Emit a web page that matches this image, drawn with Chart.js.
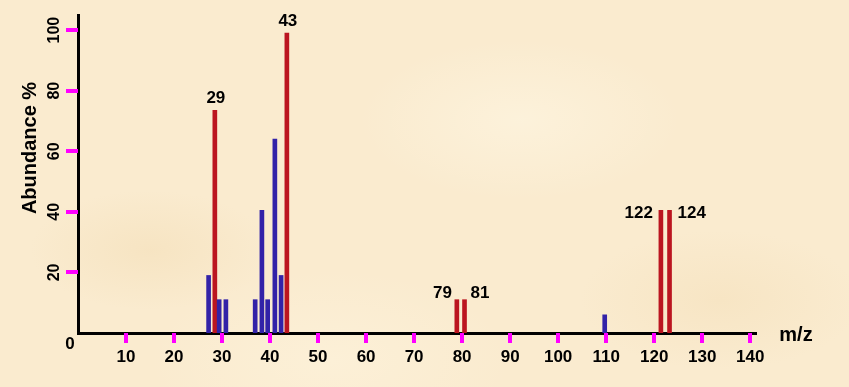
<!DOCTYPE html>
<html>
<head>
<meta charset="utf-8">
<script src="https://cdn.jsdelivr.net/npm/chart.js@4.4.1/dist/chart.umd.min.js"></script>
<style>
  html, body { margin: 0; padding: 0; }
  #wrap {
    position: relative; width: 849px; height: 387px;
    background:
      radial-gradient(ellipse 120px 60px at 150px 250px, rgba(240,215,170,0.35), transparent),
      radial-gradient(ellipse 160px 80px at 520px 120px, rgba(255,248,230,0.5), transparent),
      radial-gradient(ellipse 140px 70px at 720px 300px, rgba(240,215,170,0.3), transparent),
      radial-gradient(ellipse 180px 90px at 330px 360px, rgba(255,246,225,0.45), transparent),
      #faebcf;
  }
</style>
</head>
<body>
<div id="wrap"><canvas id="chart" width="849" height="387"></canvas></div>
<script>
// m/z positions and abundance (%)
const blueMz = [27.2, 29.4, 30.8, 36.9, 38.3, 39.5, 41.0, 42.3, 109.7];
const blueAbund = [19, 11, 11, 11, 40.5, 11, 64, 19, 6];
const redMz = [28.5, 43.5, 78.9, 80.5, 121.4, 123.2];
const redAbund = [73.5, 99, 11, 11, 40.5, 40.5];
const redLabels = ["29", "43", "79", "81", "122", "124"];
const xTicks = [10, 20, 30, 40, 50, 60, 70, 80, 90, 100, 110, 120, 130, 140];
const yTicks = [20, 40, 60, 80, 100];

const FONT = '"Liberation Sans", Arial, sans-serif';
const BLUE = '#3222a8';
const RED = '#bb1520';
const TICK = '#ff00ff'; // temporary: check that tick marks get drawn

// where each peak label sits relative to its bar
const labelSide = ["top", "top", "left", "right", "left", "right"];

const labelsPlugin = {
    id: 'labels',
    afterDraw(chart) {
        const ctx = chart.ctx;
        const xs = chart.scales.x, ys = chart.scales.y;
        const area = chart.chartArea;
        ctx.save();

        // tick marks, outside the axes
        ctx.fillStyle = TICK;
        xTicks.forEach(v => {
            const px = Math.round(xs.getPixelForValue(v));
            ctx.fillRect(px - 2, area.bottom, 4, 10);
        });
        yTicks.forEach(v => {
            const py = Math.round(ys.getPixelForValue(v));
            ctx.fillRect(area.left - 12, py - 2, 12, 4);
        });

        ctx.fillStyle = '#000';

        // peak labels
        ctx.font = 'bold 17px ' + FONT;
        redMz.forEach((mz, i) => {
            const px = xs.getPixelForValue(mz);
            const py = ys.getPixelForValue(redAbund[i]);
            const side = labelSide[i];
            ctx.textBaseline = 'alphabetic';
            if (side === 'top') {
                ctx.textAlign = 'center';
                ctx.fillText(redLabels[i], px + 1, py - 7);
            } else if (side === 'left') {
                ctx.textAlign = 'right';
                ctx.fillText(redLabels[i], px - (mz > 100 ? 8 : 5), py + (mz > 100 ? 8 : -2));
            } else {
                ctx.textAlign = 'left';
                ctx.fillText(redLabels[i], px + (mz > 100 ? 8 : 6), py + (mz > 100 ? 8 : -2));
            }
        });

        // rotated y tick labels
        ctx.font = 'bold 16px ' + FONT;
        yTicks.forEach(v => {
            const py = ys.getPixelForValue(v);
            ctx.save();
            ctx.translate(55, py);
            ctx.rotate(-Math.PI / 2);
            ctx.textAlign = 'center';
            ctx.textBaseline = 'middle';
            ctx.fillText(String(v), 0, 0);
            ctx.restore();
        });

        // corner zero
        ctx.font = 'bold 17px ' + FONT;
        ctx.textAlign = 'center';
        ctx.textBaseline = 'middle';
        ctx.fillText('0', 70, 344);

        // axis titles
        ctx.font = 'bold 20px ' + FONT;
        ctx.fillText('m/z', 796, 335);
        ctx.save();
        ctx.translate(30, 148);
        ctx.rotate(-Math.PI / 2);
        ctx.fillText('Abundance %', 0, 0);
        ctx.restore();

        ctx.restore();
    }
};

new Chart(document.getElementById('chart'), {
    type: 'bar',
    data: {
        datasets: [
            {
                data: blueMz.map((x, i) => ({ x: x, y: blueAbund[i] })),
                backgroundColor: BLUE
            },
            {
                data: redMz.map((x, i) => ({ x: x, y: redAbund[i] })),
                backgroundColor: RED
            }
        ]
    },
    options: {
        responsive: false,
        animation: false,
        layout: { padding: { top: 15, right: 94, left: 0, bottom: 0 } },
        datasets: { bar: { barThickness: 4, grouped: false } },
        plugins: { legend: { display: false }, tooltip: { enabled: false } },
        scales: {
            x: {
                type: 'linear',
                min: 0,
                max: 141,
                offset: false,
                afterFit: s => { s.height = 54; },
                afterBuildTicks: s => { s.ticks = xTicks.map(v => ({ value: v })); },
                border: { color: '#000', width: 3 },
                grid: {
                    display: true,
                    offset: false,
                    drawOnChartArea: false,
                    drawTicks: true,
                    tickLength: 8,
                    color: '#000',
                    lineWidth: 3,
                    tickColor: '#000',
                    tickWidth: 3
                },
                ticks: {
                    color: '#000',
                    padding: 6,
                    maxRotation: 0,
                    autoSkip: false,
                    font: { family: FONT, size: 17, weight: 'bold' }
                }
            },
            y: {
                min: 0,
                max: 105,
                afterFit: s => { s.width = 78; },
                afterBuildTicks: s => { s.ticks = yTicks.map(v => ({ value: v })); },
                border: { color: '#000', width: 3 },
                grid: {
                    display: true,
                    drawOnChartArea: false,
                    drawTicks: true,
                    tickLength: 11,
                    color: '#000',
                    lineWidth: 3,
                    tickColor: '#000',
                    tickWidth: 3
                },
                ticks: { display: false }
            }
        }
    },
    plugins: [labelsPlugin]
});
</script>
</body>
</html>
